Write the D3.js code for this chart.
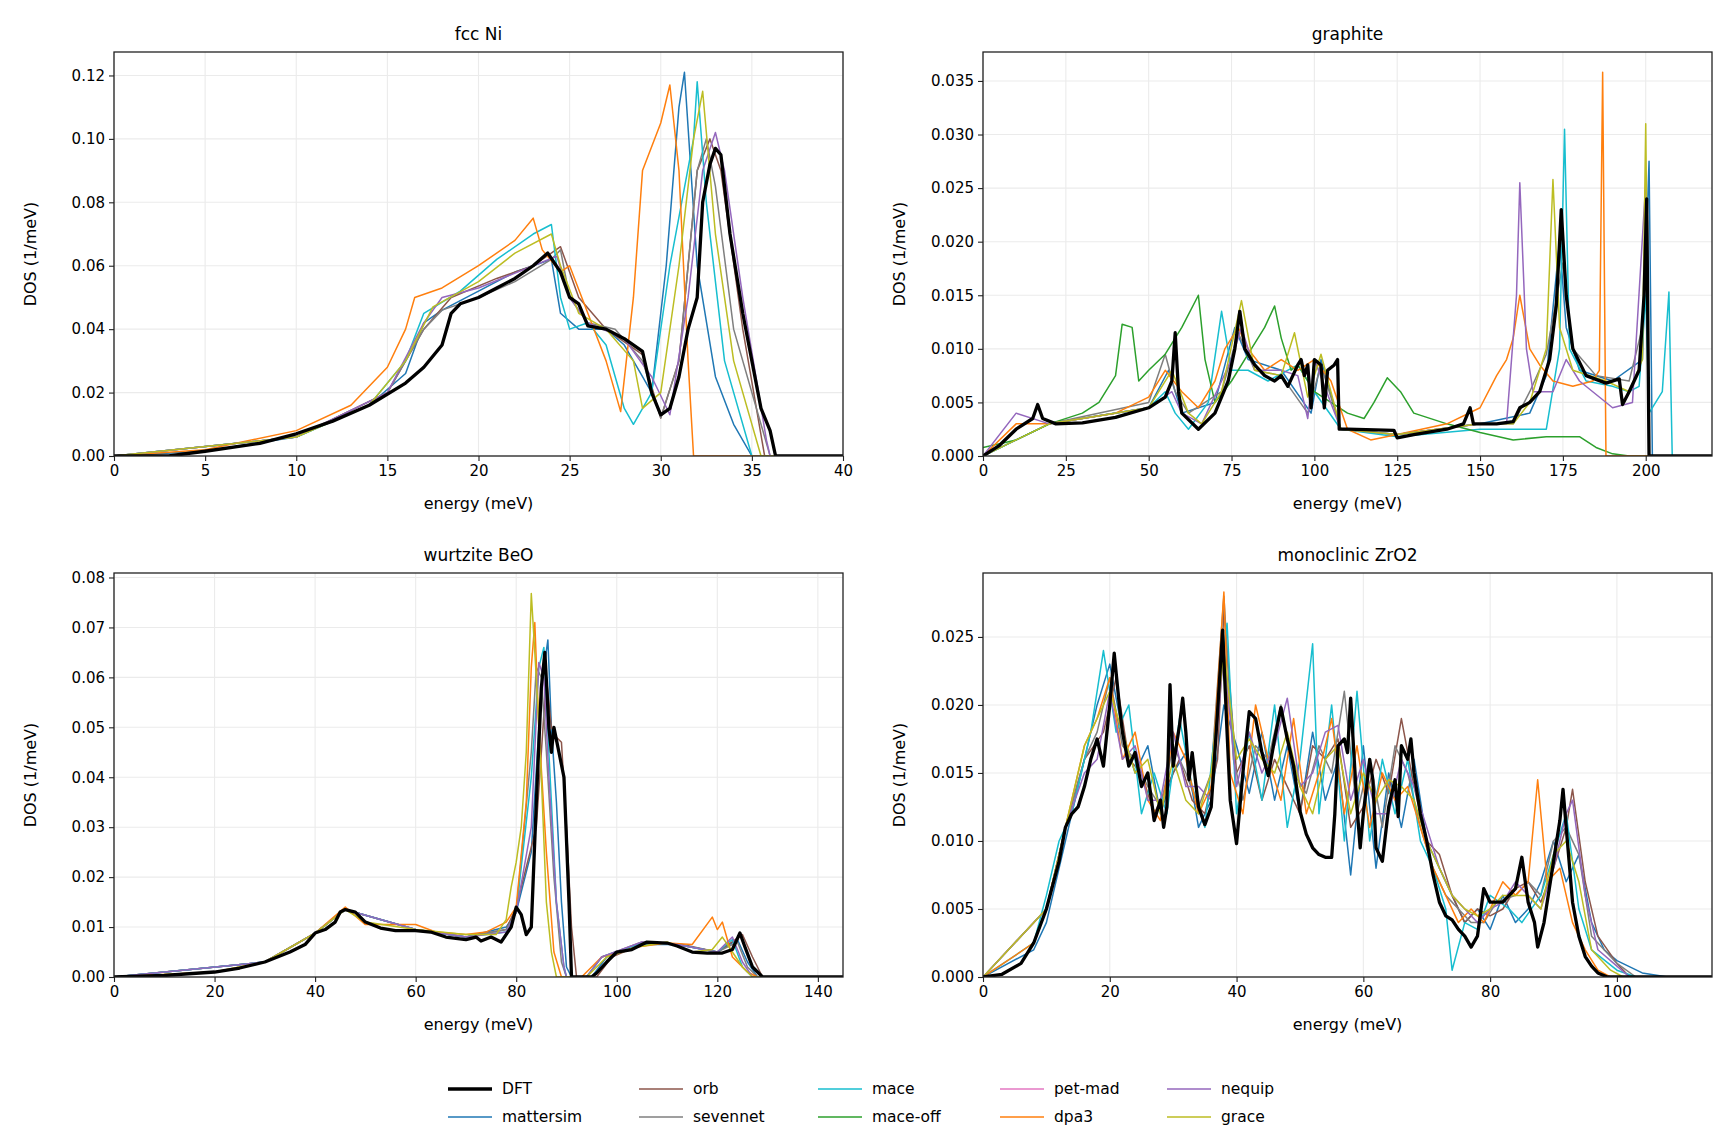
<!DOCTYPE html>
<html><head><meta charset="utf-8">
<script src="https://cdn.jsdelivr.net/npm/d3@7"></script>
<style>body{margin:0;background:#fff}svg{font-family:"DejaVu Sans",sans-serif}</style>
</head><body><svg id="chart" width="1725" height="1140"></svg>
<script>
const models = ["DFT","mattersim","orb","sevennet","mace","mace-off","pet-mad","dpa3","nequip","grace"];
const colors = {"DFT":"#000","mattersim":"#1f77b4","orb":"#8c564b","sevennet":"#7f7f7f","mace":"#17becf","mace-off":"#2ca02c","pet-mad":"#e377c2","dpa3":"#ff7f0e","nequip":"#9467bd","grace":"#bcbd22"};

// ---- fcc Ni
const niX = [0,5,10,15,20,25,30,35,40];
const niY = [0,0.02,0.04,0.06,0.08,0.10,0.12];
const ni = {
 "DFT":[[0,0],[3,0],[5,0.0015],[8,0.004],[10,0.007],[12,0.011],[14,0.016],[16,0.023],[17,0.028],[18,0.035],[18.5,0.045],[19,0.048],[20,0.05],[21,0.053],[22,0.056],[23,0.06],[23.8,0.064],[24.5,0.058],[25,0.05],[25.5,0.048],[26,0.041],[27,0.04],[28,0.037],[29,0.033],[29.5,0.02],[30,0.013],[30.5,0.015],[31,0.025],[31.5,0.04],[32,0.05],[32.3,0.08],[32.7,0.092],[33,0.097],[33.3,0.095],[33.8,0.07],[34.5,0.045],[35,0.03],[35.5,0.015],[36,0.008],[36.3,0],[40,0]],
 "dpa3":[[0,0],[5,0.002],[10,0.008],[13,0.016],[15,0.028],[16,0.04],[16.5,0.05],[18,0.053],[20,0.06],[22,0.068],[23,0.075],[23.5,0.065],[24.5,0.058],[25,0.06],[26,0.045],[27,0.03],[27.8,0.014],[28.5,0.05],[29,0.09],[30,0.105],[30.5,0.117],[31,0.09],[31.5,0.03],[31.8,0],[40,0]],
 "mattersim":[[0,0],[5,0.0015],[10,0.006],[14,0.016],[16,0.026],[17,0.042],[18,0.046],[20,0.052],[22,0.058],[24,0.062],[24.5,0.045],[25.5,0.04],[27,0.04],[28,0.035],[29,0.025],[29.5,0.02],[30.3,0.06],[31,0.11],[31.3,0.121],[32,0.06],[33,0.025],[34,0.01],[35,0],[40,0]],
 "mace":[[0,0],[10,0.006],[14,0.016],[16,0.03],[17,0.045],[19,0.052],[21,0.062],[23,0.07],[24,0.073],[24.5,0.05],[25,0.04],[26,0.042],[27,0.035],[28,0.015],[28.5,0.01],[29.5,0.02],[30.5,0.06],[31.8,0.1],[32,0.118],[32.5,0.08],[33.5,0.03],[35,0],[40,0]],
 "grace":[[0,0],[10,0.006],[14,0.016],[16,0.03],[17.5,0.047],[20,0.055],[22,0.064],[24,0.07],[24.5,0.06],[25.5,0.045],[27,0.04],[28.5,0.03],[29,0.015],[30,0.02],[31,0.06],[31.8,0.1],[32.3,0.115],[33,0.07],[34,0.03],[35.5,0],[40,0]],
 "sevennet":[[0,0],[10,0.006],[15,0.02],[17,0.04],[18,0.046],[20,0.05],[22,0.055],[24,0.062],[24.5,0.065],[25,0.05],[26,0.042],[27.5,0.04],[29,0.03],[30,0.012],[31,0.03],[32,0.09],[32.5,0.1],[33,0.085],[34,0.04],[35.5,0.01],[36,0],[40,0]],
 "orb":[[0,0],[10,0.006],[15,0.02],[17,0.04],[18.5,0.05],[21,0.056],[23,0.06],[24.5,0.066],[25.5,0.05],[27,0.04],[29,0.032],[30,0.012],[31,0.03],[32,0.09],[32.7,0.1],[33.3,0.09],[34.5,0.04],[35.7,0],[40,0]],
 "nequip":[[0,0],[10,0.006],[15,0.02],[17,0.042],[18,0.05],[20,0.053],[23,0.06],[24.3,0.063],[25,0.05],[26,0.042],[28,0.037],[29.5,0.025],[30.5,0.013],[31.5,0.05],[32.3,0.09],[33,0.102],[33.5,0.09],[34.5,0.05],[35.8,0.005],[36,0],[40,0]]
};

// ---- graphite
const grX = [0,25,50,75,100,125,150,175,200];
const grY = [0,0.005,0.010,0.015,0.020,0.025,0.030,0.035];
const gr = {
 "DFT":[[0,0],[5,0.001],[10,0.0025],[15,0.0035],[16.5,0.0048],[18,0.0035],[22,0.003],[30,0.0031],[40,0.0036],[50,0.0045],[55,0.0055],[57,0.007],[58,0.0115],[59,0.006],[60,0.004],[65,0.0025],[70,0.004],[74,0.007],[76,0.01],[77.5,0.0135],[79,0.01],[82,0.0085],[85,0.0075],[88,0.007],[90,0.0075],[92,0.0065],[95,0.0085],[96,0.009],[97,0.0075],[98,0.0085],[99,0.0045],[100,0.009],[102,0.0085],[103,0.0045],[104,0.008],[106,0.0085],[107,0.009],[107.5,0.0025],[110,0.0025],[124,0.0024],[125,0.0017],[130,0.002],[140,0.0025],[145,0.003],[147,0.0045],[148,0.003],[155,0.003],[160,0.0032],[162,0.0045],[165,0.005],[168,0.006],[171,0.009],[173,0.014],[174.5,0.023],[176,0.015],[178,0.01],[182,0.0075],[188,0.0068],[192,0.0072],[193,0.0048],[195,0.006],[198,0.008],[199.5,0.015],[200.3,0.024],[201,0],[220,0]],
 "mace-off":[[0,0.0008],[10,0.0015],[20,0.003],[30,0.004],[35,0.005],[40,0.0075],[42,0.0123],[45,0.012],[47,0.007],[50,0.008],[55,0.0095],[60,0.012],[65,0.015],[67,0.009],[70,0.005],[75,0.007],[80,0.0095],[85,0.012],[88,0.014],[90,0.011],[93,0.008],[95,0.0085],[100,0.006],[105,0.005],[110,0.004],[115,0.0035],[118,0.005],[122,0.0073],[126,0.006],[130,0.004],[140,0.003],[150,0.0022],[160,0.0015],[170,0.0018],[180,0.0018],[185,0.0008],[190,0.0002],[195,0],[220,0]],
 "dpa3":[[0,0],[10,0.003],[20,0.003],[40,0.004],[50,0.0055],[55,0.008],[60,0.006],[65,0.0045],[70,0.007],[73,0.01],[77,0.012],[80,0.01],[85,0.008],[90,0.009],[95,0.008],[100,0.009],[105,0.007],[110,0.0025],[117,0.0015],[125,0.002],[140,0.003],[150,0.0045],[155,0.0075],[158,0.009],[160,0.011],[162,0.015],[165,0.01],[168,0.0085],[172,0.007],[178,0.0065],[184,0.007],[186,0.008],[187,0.0358],[188,0],[220,0]],
 "mace":[[0,0],[20,0.003],[50,0.0045],[55,0.006],[58,0.004],[62,0.0025],[68,0.005],[72,0.0135],[75,0.008],[80,0.008],[86,0.007],[95,0.0085],[100,0.006],[108,0.0025],[125,0.0018],[150,0.0025],[170,0.0025],[174,0.01],[175.5,0.0305],[177,0.01],[182,0.007],[190,0.0065],[195,0.006],[198,0.0065],[200,0.015],[201,0.004],[205,0.006],[207,0.0153],[208,0],[220,0]],
 "nequip":[[0,0],[10,0.004],[20,0.003],[50,0.0045],[57,0.006],[60,0.004],[66,0.003],[75,0.009],[78,0.012],[82,0.008],[90,0.008],[95,0.0075],[98,0.0035],[100,0.009],[108,0.0025],[125,0.002],[150,0.003],[158,0.003],[161,0.015],[162,0.0255],[164,0.01],[166,0.006],[172,0.006],[176,0.009],[180,0.007],[190,0.0045],[196,0.005],[200,0.0255],[201,0],[220,0]],
 "grace":[[0,0],[20,0.003],[50,0.0045],[57,0.008],[62,0.004],[66,0.003],[72,0.006],[78,0.0145],[82,0.008],[90,0.0075],[94,0.0115],[98,0.0055],[102,0.0095],[108,0.0025],[125,0.002],[150,0.003],[160,0.003],[165,0.005],[170,0.01],[172,0.0258],[174,0.012],[178,0.008],[188,0.007],[195,0.006],[199,0.009],[200,0.031],[201,0],[220,0]],
 "sevennet":[[0,0],[20,0.003],[50,0.005],[55,0.0095],[58,0.006],[62,0.004],[72,0.006],[77,0.0115],[82,0.008],[90,0.0075],[98,0.004],[102,0.0085],[108,0.0025],[125,0.002],[150,0.003],[160,0.003],[165,0.006],[170,0.0095],[175,0.018],[178,0.01],[185,0.0075],[195,0.007],[199,0.012],[200.5,0.022],[201,0],[220,0]],
 "mattersim":[[0,0],[20,0.003],[50,0.0045],[56,0.008],[60,0.004],[70,0.005],[76,0.012],[80,0.009],[90,0.008],[99,0.004],[102,0.009],[108,0.0025],[125,0.002],[150,0.003],[165,0.004],[170,0.0075],[174,0.02],[176,0.012],[180,0.008],[190,0.007],[199,0.009],[201,0.0275],[202,0],[220,0]]
};

// ---- wurtzite BeO
const beX = [0,20,40,60,80,100,120,140];
const beY = [0,0.01,0.02,0.03,0.04,0.05,0.06,0.07,0.08];
const be = {
 "DFT":[[0,0],[10,0.0003],[20,0.001],[25,0.0018],[30,0.003],[35,0.005],[38,0.0065],[40,0.0088],[42,0.0095],[44,0.011],[45,0.013],[46,0.0135],[48,0.013],[50,0.011],[53,0.0098],[56,0.0093],[60,0.0093],[63,0.009],[66,0.008],[70,0.0075],[72,0.008],[73,0.0072],[75,0.008],[77,0.007],[79,0.01],[80,0.014],[81,0.0125],[82,0.0085],[83,0.01],[84,0.035],[85,0.058],[85.7,0.065],[86.5,0.05],[87,0.045],[87.5,0.05],[88.5,0.045],[89.5,0.04],[90.5,0.015],[91,0],[95,0],[96,0.0008],[98,0.003],[100,0.005],[103,0.0055],[106,0.007],[110,0.0068],[112,0.0062],[115,0.005],[118,0.0048],[121,0.0048],[123,0.0055],[124.5,0.0088],[125.5,0.006],[127,0.002],[129,0],[145,0]],
 "grace":[[0,0],[20,0.001],[30,0.003],[40,0.0088],[46,0.0135],[50,0.011],[60,0.0095],[70,0.0085],[76,0.0085],[78,0.0115],[79,0.018],[80,0.023],[81,0.03],[82,0.045],[83,0.0768],[84,0.06],[85,0.04],[86,0.015],[87,0.005],[88,0],[94,0],[98,0.004],[104,0.006],[110,0.007],[115,0.005],[119,0.0055],[121,0.008],[123,0.005],[125,0.002],[127,0],[145,0]],
 "dpa3":[[0,0],[20,0.001],[30,0.003],[40,0.0088],[46,0.014],[50,0.0105],[60,0.0105],[64,0.009],[70,0.0085],[74,0.009],[78,0.011],[80,0.014],[82,0.035],[83,0.062],[83.7,0.071],[84.5,0.05],[86,0.025],[87.5,0.005],[89,0],[93,0],[97,0.004],[104,0.006],[110,0.0068],[115,0.0065],[119,0.012],[120,0.0095],[121,0.011],[123,0.004],[126,0.001],[128,0],[145,0]],
 "mattersim":[[0,0],[30,0.003],[40,0.0088],[46,0.0135],[60,0.0095],[70,0.008],[78,0.01],[80,0.013],[83,0.025],[85,0.058],[86.3,0.0675],[87,0.05],[88,0.035],[89,0.015],[90,0.002],[91,0],[95,0],[98,0.004],[105,0.0065],[112,0.0065],[120,0.005],[124,0.0075],[126,0.003],[128,0],[145,0]],
 "mace":[[0,0],[30,0.003],[40,0.0088],[46,0.0135],[60,0.0095],[70,0.008],[78,0.009],[80,0.013],[83,0.04],[84.5,0.062],[85.5,0.066],[86.5,0.045],[88,0.015],[89.5,0.002],[90,0],[94,0],[97,0.004],[105,0.0068],[112,0.0065],[120,0.005],[123,0.0075],[125,0.002],[127,0],[145,0]],
 "orb":[[0,0],[30,0.003],[40,0.0088],[46,0.0135],[60,0.0095],[70,0.008],[78,0.0095],[80,0.014],[84,0.03],[86,0.06],[87,0.05],[88,0.048],[89,0.047],[90,0.03],[91,0.01],[92,0],[96,0],[99,0.004],[106,0.007],[113,0.0065],[120,0.005],[125,0.0085],[127,0.004],[129,0],[145,0]],
 "sevennet":[[0,0],[30,0.003],[40,0.0088],[46,0.0135],[60,0.0095],[70,0.008],[78,0.0095],[80,0.013],[83,0.045],[84,0.062],[85,0.06],[86,0.045],[87.5,0.02],[89,0.003],[90,0],[94,0],[97,0.004],[105,0.007],[112,0.0065],[120,0.005],[124,0.007],[126,0.002],[128,0],[145,0]],
 "nequip":[[0,0],[30,0.003],[40,0.0088],[46,0.0135],[60,0.0095],[70,0.008],[78,0.009],[80,0.013],[83,0.03],[84.5,0.063],[85.5,0.06],[86.5,0.04],[88,0.015],[89.5,0.002],[90,0],[94,0],[97,0.004],[105,0.007],[112,0.0065],[120,0.005],[123,0.008],[125,0.003],[127,0],[145,0]]
};

// ---- monoclinic ZrO2
const zrX = [0,20,40,60,80,100];
const zrY = [0,0.005,0.010,0.015,0.020,0.025];
const zr = {
 "DFT":[[0,0],[3,0.0002],[6,0.001],[8,0.0025],[10,0.005],[12,0.0085],[13,0.011],[14,0.012],[15,0.0125],[16,0.014],[17,0.016],[18,0.0175],[19,0.0155],[20,0.02],[20.7,0.0238],[21.5,0.02],[22,0.018],[23,0.0155],[24,0.0165],[25,0.014],[26,0.015],[27,0.0115],[28,0.013],[28.5,0.011],[29,0.0125],[29.5,0.0215],[30,0.0155],[31,0.0185],[31.5,0.0205],[32,0.018],[32.5,0.0145],[33,0.0165],[34,0.0125],[35,0.0112],[36,0.0125],[37,0.0195],[37.8,0.0255],[38.5,0.018],[39,0.013],[40,0.0098],[41,0.015],[42,0.0195],[43,0.019],[44,0.0165],[45,0.0148],[46,0.0175],[47,0.0198],[48,0.0175],[49,0.0155],[50,0.0122],[51,0.0105],[52,0.0095],[53,0.009],[54,0.0088],[55,0.0088],[55.5,0.012],[56,0.017],[57,0.0175],[57.5,0.0165],[58,0.0205],[59,0.0125],[59.5,0.0095],[60,0.012],[61,0.016],[61.5,0.0145],[62,0.0095],[63,0.0085],[64,0.0125],[65,0.0145],[65.5,0.0118],[66,0.017],[67,0.016],[67.5,0.0175],[68,0.015],[69,0.012],[70,0.01],[71,0.0075],[72,0.0055],[73,0.0045],[74,0.0042],[75,0.0035],[76,0.003],[77,0.0022],[78,0.003],[79,0.0065],[80,0.0055],[82,0.0055],[83,0.006],[84,0.0065],[85,0.0088],[86,0.0055],[87,0.004],[87.5,0.0022],[88.5,0.004],[90,0.0085],[91,0.0115],[91.5,0.0138],[92,0.011],[93,0.0055],[94,0.003],[95,0.0015],[96,0.0008],[97,0.0003],[98.5,0],[115,0]],
 "mace":[[0,0],[8,0.0025],[10,0.006],[12,0.01],[14,0.012],[17,0.018],[19,0.024],[21,0.018],[23,0.02],[25,0.012],[27,0.015],[29,0.012],[31,0.019],[33,0.014],[35,0.011],[37,0.02],[38.5,0.026],[40,0.012],[42,0.018],[44,0.013],[46,0.02],[48,0.011],[50,0.016],[52,0.0245],[53,0.012],[55,0.02],[57,0.01],[59,0.021],[61,0.01],[63,0.016],[65,0.012],[67,0.016],[69,0.01],[71,0.008],[73,0.005],[74,0.0005],[76,0.004],[78,0.0035],[80,0.006],[83,0.005],[85,0.004],[88,0.006],[90,0.009],[92,0.012],[94,0.005],[96,0.002],[100,0.0005],[103,0],[115,0]],
 "dpa3":[[0,0],[8,0.0025],[10,0.005],[13,0.011],[16,0.017],[18,0.019],[20,0.022],[22,0.016],[24,0.018],[26,0.013],[28,0.0115],[30,0.018],[32,0.016],[34,0.012],[36,0.014],[38,0.0283],[39,0.015],[41,0.012],[43,0.02],[45,0.016],[47,0.013],[49,0.019],[51,0.012],[53,0.015],[55,0.019],[57,0.012],[59,0.017],[61,0.011],[63,0.015],[65,0.013],[67,0.014],[69,0.011],[71,0.008],[73,0.006],[75,0.004],[77,0.005],[79,0.004],[82,0.007],[84,0.006],[86,0.007],[87.5,0.0145],[89,0.007],[91,0.008],[93,0.004],[95,0.002],[97,0.0005],[99,0],[115,0]],
 "mattersim":[[0,0],[8,0.002],[10,0.004],[13,0.01],[16,0.016],[18,0.02],[20,0.023],[22,0.018],[24,0.015],[26,0.017],[28,0.012],[30,0.015],[32,0.0165],[34,0.011],[36,0.013],[38,0.02],[40,0.017],[42,0.0135],[44,0.018],[46,0.013],[48,0.017],[50,0.012],[52,0.018],[54,0.013],[56,0.016],[58,0.0075],[60,0.017],[62,0.008],[64,0.015],[66,0.011],[68,0.016],[70,0.01],[72,0.008],[74,0.006],[76,0.004],[78,0.005],[80,0.0035],[82,0.006],[84,0.004],[86,0.005],[88,0.007],[90,0.01],[92,0.007],[94,0.009],[96,0.004],[98,0.002],[100,0.0012],[104,0.0003],[108,0],[115,0]],
 "sevennet":[[0,0],[10,0.005],[13,0.011],[16,0.016],[18,0.018],[20,0.022],[22,0.017],[24,0.016],[26,0.014],[28,0.0125],[30,0.017],[32,0.015],[34,0.0125],[36,0.015],[38,0.028],[39.5,0.016],[41,0.013],[43,0.017],[45,0.016],[47,0.02],[49,0.015],[51,0.0135],[53,0.017],[55,0.015],[57,0.021],[59,0.012],[61,0.016],[63,0.011],[65,0.017],[67,0.015],[69,0.011],[71,0.008],[73,0.006],[75,0.005],[77,0.004],[79,0.004],[81,0.0055],[84,0.006],[86,0.007],[88,0.006],[90,0.01],[92,0.011],[94,0.009],[96,0.003],[100,0.001],[103,0],[115,0]],
 "nequip":[[0,0],[10,0.005],[13,0.011],[16,0.015],[18,0.016],[20,0.021],[22,0.016],[24,0.017],[26,0.013],[28,0.013],[30,0.018],[32,0.014],[34,0.014],[36,0.013],[38,0.024],[40,0.014],[42,0.018],[44,0.015],[46,0.017],[48,0.0205],[50,0.014],[52,0.015],[54,0.018],[56,0.0185],[58,0.013],[60,0.016],[62,0.012],[64,0.012],[66,0.016],[68,0.014],[70,0.011],[72,0.008],[74,0.006],[76,0.005],[78,0.004],[80,0.005],[82,0.0055],[84,0.007],[86,0.006],[88,0.005],[90,0.008],[92,0.012],[93,0.013],[95,0.006],[97,0.002],[100,0.0008],[102,0],[115,0]],
 "orb":[[0,0],[10,0.005],[13,0.011],[16,0.016],[19,0.018],[21,0.022],[23,0.016],[25,0.015],[27,0.012],[29,0.014],[31,0.016],[33,0.013],[35,0.012],[37,0.016],[38,0.027],[40,0.015],[42,0.017],[44,0.013],[46,0.016],[48,0.014],[50,0.012],[52,0.017],[54,0.016],[56,0.0175],[58,0.011],[60,0.0125],[62,0.016],[64,0.0135],[66,0.019],[68,0.014],[70,0.01],[72,0.009],[74,0.006],[76,0.004],[78,0.005],[80,0.0045],[82,0.005],[84,0.0065],[86,0.007],[88,0.0055],[90,0.008],[92,0.011],[93,0.0138],[95,0.007],[97,0.003],[100,0.001],[102,0],[115,0]],
 "grace":[[0,0],[10,0.005],[13,0.011],[16,0.017],[18,0.019],[20,0.021],[22,0.018],[24,0.015],[26,0.016],[28,0.012],[30,0.016],[32,0.013],[34,0.012],[36,0.015],[38,0.024],[40,0.016],[42,0.0175],[44,0.016],[46,0.015],[48,0.018],[50,0.014],[52,0.012],[54,0.016],[56,0.017],[58,0.012],[60,0.015],[62,0.013],[64,0.0145],[66,0.014],[68,0.013],[70,0.01],[72,0.008],[74,0.006],[76,0.005],[78,0.0045],[80,0.005],[82,0.006],[84,0.006],[86,0.006],[88,0.005],[90,0.009],[92,0.01],[94,0.007],[96,0.002],[99,0.0005],[101,0],[115,0]]
};

const panels = [
  {title:"fcc Ni", data:ni, xd:[0,40], yd:[0,0.1274], xt:niX, yt:niY, yf:d3.format(".2f"), x:114, y:52},
  {title:"graphite", data:gr, xd:[0,220], yd:[0,0.0377], xt:grX, yt:grY, yf:d3.format(".3f"), x:983, y:52},
  {title:"wurtzite BeO", data:be, xd:[0,145], yd:[0,0.0809], xt:beX, yt:beY, yf:d3.format(".2f"), x:114, y:573},
  {title:"monoclinic ZrO2", data:zr, xd:[0,115], yd:[0,0.0297], xt:zrX, yt:zrY, yf:d3.format(".3f"), x:983, y:573}
];
const W = 729, H = 404;
const svg = d3.select("#chart");

panels.forEach(p => {
  const g = svg.append("g").attr("transform", `translate(${p.x},${p.y})`);
  const x = d3.scaleLinear().domain(p.xd).range([0, W]);
  const y = d3.scaleLinear().domain(p.yd).range([H, 0]);
  // grid
  g.append("g").selectAll("line").data(p.xt).join("line")
    .attr("x1", d => x(d)).attr("x2", d => x(d)).attr("y1", 0).attr("y2", H)
    .attr("stroke", "#ebebeb").attr("stroke-width", 1.1);
  g.append("g").selectAll("line").data(p.yt).join("line")
    .attr("y1", d => y(d)).attr("y2", d => y(d)).attr("x1", 0).attr("x2", W)
    .attr("stroke", "#ebebeb").attr("stroke-width", 1.1);
  // lines
  const line = d3.line().x(d => x(d[0])).y(d => y(d[1]));
  const clipId = "clip" + p.x + p.y;
  g.append("clipPath").attr("id", clipId).append("rect").attr("width", W).attr("height", H);
  const lg = g.append("g").attr("clip-path", `url(#${clipId})`);
  models.slice(1).concat(["DFT"]).forEach(m => {
    if (!p.data[m]) return;
    lg.append("path").datum(p.data[m]).attr("d", line).attr("fill", "none")
      .attr("stroke", colors[m]).attr("stroke-width", m == "DFT" ? 3.3 : 1.5)
      .attr("stroke-linejoin", "round");
  });
  // axes
  const xa = g.append("g").attr("transform", `translate(0,${H})`)
    .call(d3.axisBottom(x).tickValues(p.xt).tickFormat(d3.format("d")).tickSize(5).tickPadding(4));
  const ya = g.append("g").call(d3.axisLeft(y).tickValues(p.yt).tickFormat(p.yf).tickSize(5).tickPadding(4));
  [xa, ya].forEach(a => {
    a.select(".domain").remove();
    a.selectAll("text").attr("font-size", 15).attr("fill", "#000").attr("font-family", "DejaVu Sans");
    a.selectAll("line").attr("stroke", "#222").attr("stroke-width", 1.1);
  });
  g.append("rect").attr("width", W).attr("height", H).attr("fill", "none").attr("stroke", "#222").attr("stroke-width", 1.3);
  g.append("text").attr("x", W / 2).attr("y", -12).attr("text-anchor", "middle").attr("font-size", 17).text(p.title);
  g.append("text").attr("x", W / 2).attr("y", H + 53).attr("text-anchor", "middle").attr("font-size", 16).text("energy (meV)");
  g.append("text").attr("transform", `translate(-78,${H / 2}) rotate(-90)`).attr("text-anchor", "middle").attr("font-size", 16).text("DOS (1/meV)");
});

// legend
const legCols = [448, 639, 818, 1000, 1167];
const leg = svg.append("g");
models.forEach((m, i) => {
  const cx = legCols[Math.floor(i / 2)], cy = i % 2 ? 1117 : 1089;
  leg.append("line").attr("x1", cx).attr("x2", cx + 44).attr("y1", cy).attr("y2", cy)
    .attr("stroke", colors[m]).attr("stroke-width", m == "DFT" ? 3.3 : 1.5);
  leg.append("text").attr("x", cx + 54).attr("y", cy + 5).attr("font-size", 15.5).text(m);
});
</script></body></html>
